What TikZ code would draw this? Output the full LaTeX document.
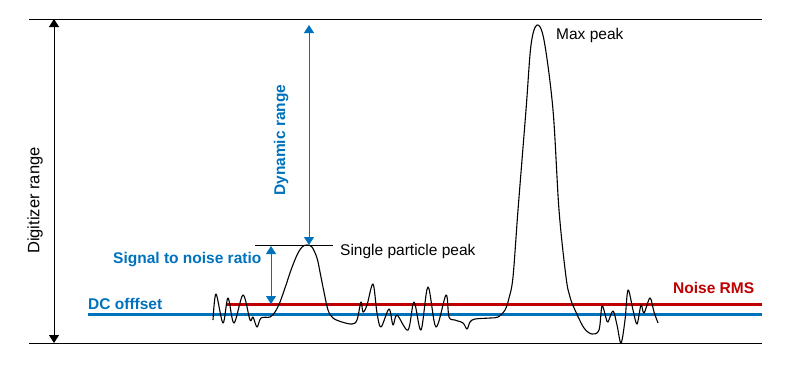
\documentclass[tikz,border=0pt]{standalone}
\usepackage{fontspec}
\setmainfont{Liberation Sans}
\usetikzlibrary{arrows.meta}
\definecolor{cblue}{RGB}{0,114,188}
\definecolor{cred}{RGB}{192,0,0}
\tikzset{
  lbl/.style={inner sep=0pt, font=\fontsize{15.5}{18}\selectfont},
  blbl/.style={lbl, font=\fontsize{15.5}{18}\selectfont\bfseries},
  rangearrow/.style={line width=1pt, {Triangle[width=10pt,length=8pt]}-{Triangle[width=10pt,length=8pt]}},
  levelline/.style={line width=3pt},
  refline/.style={line width=1pt, black},
  signal/.style={line width=1.1pt, black, line join=round}
}
\begin{document}
\begin{tikzpicture}[x=1pt,y=-1pt]
\useasboundingbox (0,0) rectangle (786,368);
% reference lines
\coordinate (tl) at (29,19);
\coordinate (tr) at (762,19);
\coordinate (bl) at (29,343);
\coordinate (br) at (762,343);
\draw[refline] (tl) -- (tr);
\draw[refline] (bl) -- (br);
% level lines
\coordinate (dcl) at (88,314);
\coordinate (dcr) at (762,314);
\coordinate (nrl) at (227,304);
\coordinate (nrr) at (762,304);
\draw[levelline, cblue] (dcl) -- (dcr);
\draw[levelline, cred] (nrl) -- (nrr);
% single particle peak line
\coordinate (spl) at (255,245);
\coordinate (spr) at (333,245);
\draw[refline] (spl) -- (spr);
% signal
\draw[signal] plot[smooth, tension=0.55] coordinates {
(213,320) (216,294) (223,323) (228,298) (234,323) (243,295) (250,320) (253,317)
(257,327) (261,318) (270,317) (275,312) (280,302) (286,285) (291,270) (297,255)
(302,247) (307,245) (312,247) (317,258) (320,272) (324,292) (328,310) (333,318)
(342,322) (352,324) (357,320) (361,302) (363,312) (367,305) (373,284) (377,313)
(381,327) (389,309) (393,325) (397,315) (408,330) (414,302) (421,330) (428,287)
(436,327) (446,295) (449,317) (455,320) (463,323) (467,329) (470,322) (475,319)
(490,318) (498,317) (505,310) (509,298) (513,277) (518,210) (526,110) (531,45)
(537,25) (544,40) (553,110) (559,210) (566,277) (570,297) (575,310) (584,328)
(592,334) (599,330) (602,306) (606,318) (608,322) (613,311) (617,325) (621,343)
(625,320) (628,290) (633,310) (637,324) (641,305) (644,313) (650,298) (654,312)
(658,323)};
% arrows
\coordinate (dga) at (54,19);
\coordinate (dgb) at (54,343);
\draw[rangearrow, black] (dga) -- (dgb);
\coordinate (dya) at (309,25);
\coordinate (dyb) at (309,245);
\draw[rangearrow, cblue] (dya) -- (dyb);
\coordinate (sna) at (271,246);
\coordinate (snb) at (271,304);
\draw[rangearrow, cblue] (sna) -- (snb);
% labels
\node[lbl, anchor=base west, rotate=90, font=\fontsize{16.5}{19}\selectfont] (digi) at (39.3,254) {Digitizer range};
\node[blbl, anchor=base west, rotate=90, text=cblue] (dyn) at (285,196) {Dynamic range};
\node[blbl, anchor=base west, text=cblue] (snr) at (113,263) {Signal to noise ratio};
\node[blbl, anchor=base west, text=cblue] (dco) at (88,309) {DC offfset};
\node[blbl, anchor=base west, text=cred] (nrms) at (673,293) {Noise RMS};
\node[lbl, anchor=base west] (maxp) at (556,39.5) {Max peak};
\node[lbl, anchor=base west] (spp) at (340,255) {Single particle peak};
\end{tikzpicture}
\end{document}
